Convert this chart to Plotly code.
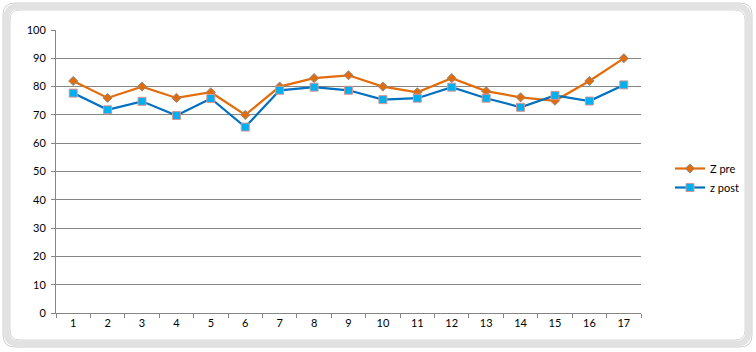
import plotly.graph_objects as go

categories = [str(i) for i in range(1, 18)]
z_pre = [82, 76, 80, 76, 78, 70, 80, 83, 84, 80, 78, 83, 78.4, 76.2, 75, 82, 90]
z_post = [77.7, 71.8, 74.8, 69.8, 75.8, 65.7, 78.7, 79.8, 78.7, 75.4, 75.9, 79.8, 75.9, 72.7, 76.9, 74.9, 80.6]
y_ticks = list(range(0, 101, 10))

W, H = 756, 352
L, R, T, B = 56, 115, 30, 39
pw, ph = W - L - R, H - T - B

def px(x):
    return (x - L) / pw

def py(y):
    return (H - B - y) / ph

fig = go.Figure()
fig.add_trace(go.Scatter(
    x=categories, y=z_pre, name="Z pre", mode="lines+markers",
    line=dict(color="#E36C0A", width=2.2),
    marker=dict(symbol="diamond", size=7, color="#E36C0A",
                line=dict(color="#8C8C8C", width=1)),
))
fig.add_trace(go.Scatter(
    x=categories, y=z_post, name="z post", mode="lines+markers",
    line=dict(color="#0070C0", width=2.2),
    marker=dict(symbol="square", size=8, color="#00B0F0",
                line=dict(color="#D99694", width=1)),
))

# Excel-style rounded chart frame
def rounded(xa, ya, xb, yb, r):
    x0, y0, x1, y1 = px(xa), py(ya), px(xb), py(yb)
    rx, ry = r / pw, r / ph
    return (f"M {x0+rx},{y0} L {x1-rx},{y0} Q {x1},{y0} {x1},{y0-ry} "
            f"L {x1},{y1+ry} Q {x1},{y1} {x1-rx},{y1} "
            f"L {x0+rx},{y1} Q {x0},{y1} {x0},{y1+ry} "
            f"L {x0},{y0-ry} Q {x0},{y0} {x0+rx},{y0} Z")

fig.add_shape(type="path", path=rounded(6.5, 6.5, 748.5, 343.5, 12),
              xref="paper", yref="paper",
              line=dict(color="#E2E2E2", width=6), layer="below")
fig.add_shape(type="path", path=rounded(3, 3, 752, 347, 12),
              xref="paper", yref="paper",
              line=dict(color="#CFCFCF", width=1), layer="below")
fig.add_shape(type="path", path=rounded(10, 10, 745, 340, 10),
              xref="paper", yref="paper",
              line=dict(color="#D6D6D6", width=1), layer="below")

fig.update_layout(
    width=W, height=H, autosize=False,
    margin=dict(l=L, r=R, t=T, b=B),
    paper_bgcolor="white", plot_bgcolor="white",
    font=dict(family="Lato", size=11, color="black"),
    showlegend=True,
    legend=dict(x=px(670), y=py(154), xanchor="left", yanchor="top",
                font=dict(size=11), bgcolor="rgba(0,0,0,0)",
                tracegroupgap=2, itemwidth=30),
    xaxis=dict(
        type="category", range=[-0.5, 16.5],
        showgrid=False, showline=True, linecolor="#868686", linewidth=1,
        ticks="outside", ticklen=4, tickcolor="#868686",
        tickson="boundaries", zeroline=False,
        tickfont=dict(size=11),
    ),
    yaxis=dict(
        range=[0, 100], tickvals=y_ticks,
        showgrid=True, gridcolor="#868686", gridwidth=1,
        showline=True, linecolor="#868686", linewidth=1,
        ticks="outside", ticklen=4, tickcolor="#868686",
        zeroline=False, tickfont=dict(size=11), ticklabelstandoff=3,
    ),
)

fig.write_html("out.html", config={"responsive": False})
